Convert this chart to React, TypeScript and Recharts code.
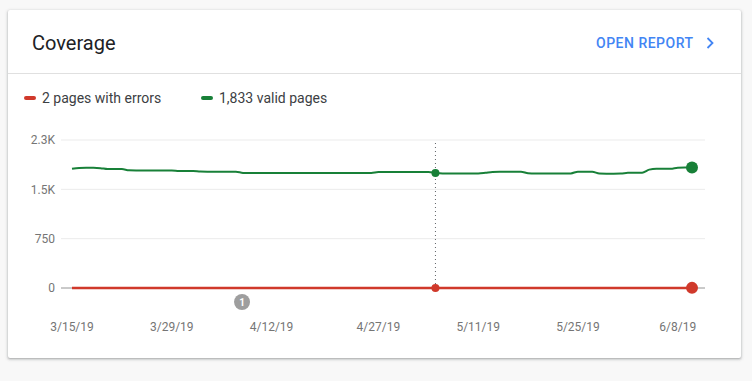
import React from 'react';
import {
  LineChart,
  Line,
  XAxis,
  YAxis,
  CartesianGrid,
  ReferenceLine,
  ReferenceDot,
} from 'recharts';

// daily dates, 3/15/19 .. 6/10/19
const DATES = [
  '3/15/19', '3/16/19', '3/17/19', '3/18/19', '3/19/19', '3/20/19', '3/21/19', '3/22/19', '3/23/19', '3/24/19',
  '3/25/19', '3/26/19', '3/27/19', '3/28/19', '3/29/19', '3/30/19', '3/31/19',
  '4/1/19', '4/2/19', '4/3/19', '4/4/19', '4/5/19', '4/6/19', '4/7/19', '4/8/19', '4/9/19', '4/10/19',
  '4/11/19', '4/12/19', '4/13/19', '4/14/19', '4/15/19', '4/16/19', '4/17/19', '4/18/19', '4/19/19', '4/20/19',
  '4/21/19', '4/22/19', '4/23/19', '4/24/19', '4/25/19', '4/26/19', '4/27/19', '4/28/19', '4/29/19', '4/30/19',
  '5/1/19', '5/2/19', '5/3/19', '5/4/19', '5/5/19', '5/6/19', '5/7/19', '5/8/19', '5/9/19', '5/10/19',
  '5/11/19', '5/12/19', '5/13/19', '5/14/19', '5/15/19', '5/16/19', '5/17/19', '5/18/19', '5/19/19', '5/20/19',
  '5/21/19', '5/22/19', '5/23/19', '5/24/19', '5/25/19', '5/26/19', '5/27/19', '5/28/19', '5/29/19', '5/30/19',
  '5/31/19',
  '6/1/19', '6/2/19', '6/3/19', '6/4/19', '6/5/19', '6/6/19', '6/7/19', '6/8/19', '6/9/19', '6/10/19',
];

const VALID_PAGES = [
  1812, 1826, 1828, 1828, 1822, 1808, 1808, 1808, 1790, 1788,
  1788, 1788, 1788, 1788, 1788, 1780, 1779, 1779, 1770, 1768,
  1768, 1768, 1768, 1768, 1750, 1748, 1748, 1748, 1748, 1748,
  1748, 1748, 1748, 1748, 1748, 1748, 1748, 1748, 1748, 1748,
  1748, 1748, 1748, 1762, 1762, 1762, 1762, 1762, 1762, 1762,
  1762, 1750, 1742, 1740, 1740, 1740, 1740, 1742, 1752, 1765,
  1768, 1768, 1768, 1768, 1745, 1740, 1740, 1740, 1740, 1740,
  1742, 1768, 1768, 1768, 1740, 1738, 1738, 1740, 1752, 1754,
  1754, 1800, 1813, 1813, 1813, 1830, 1833, 1833,
];

const ERROR_PAGES = [
  0, 0, 0, 0, 0, 0, 0, 0, 0, 0,
  0, 0, 0, 0, 0, 0, 0, 0, 0, 0,
  0, 0, 0, 0, 0, 0, 0, 0, 0, 0,
  0, 0, 0, 0, 0, 0, 0, 0, 0, 0,
  0, 0, 0, 0, 0, 0, 0, 0, 0, 0,
  0, 0, 0, 0, 0, 0, 0, 0, 0, 0,
  0, 0, 0, 0, 0, 0, 0, 0, 0, 0,
  0, 0, 0, 0, 0, 0, 0, 0, 0, 0,
  0, 0, 0, 0, 0, 0, 0, 2,
];

const X_TICKS = ['3/15/19', '3/29/19', '4/12/19', '4/27/19', '5/11/19', '5/25/19', '6/8/19'];
const Y_TICKS = [0, 750, 1500, 2250];
const Y_LABELS = ['0', '750', '1.5K', '2.3K'];

const HOVER_DATE = '5/5/19';
const ANNOTATION_DATE = '4/8/19';
const ANNOTATION_LABEL = '1';

const RED = '#d0392b';
const GREEN = '#188038';
const FONT = 'Roboto, "Noto Sans", sans-serif';

const data = DATES.map((date, i) => ({
  date,
  errors: ERROR_PAGES[i],
  valid: VALID_PAGES[i],
}));

const lastIndex = data.length - 1;
const hoverIndex = DATES.indexOf(HOVER_DATE);

const endDot = (color: string) => (props: any) => {
  const { cx, cy, index } = props;
  if (index !== lastIndex) return <g key={`d-${index}`} />;
  return <circle key={`d-${index}`} cx={cx} cy={cy} r={6} fill={color} />;
};

const Badge = (props: any) => {
  const { cx, cy } = props;
  return (
    <g>
      <circle cx={cx - 1} cy={cy + 14} r={8} fill="#9e9e9e" />
      <text
        x={cx - 1}
        y={cy + 14}
        dy="0.35em"
        textAnchor="middle"
        fill="#fff"
        fontSize={10}
        fontWeight={700}
        fontFamily={FONT}
      >
        {ANNOTATION_LABEL}
      </text>
    </g>
  );
};

export default function App() {
  return (
    <div
      style={{
        position: 'absolute',
        left: 0,
        top: 0,
        width: 752,
        height: 381,
        background: '#f8f8f8',
        fontFamily: FONT,
      }}
    >
      <div
        style={{
          position: 'absolute',
          left: 8,
          top: 10,
          width: 733,
          height: 348,
          background: '#fff',
          borderRadius: 2,
          boxShadow: '0 1px 2px rgba(60,64,67,0.3), 0 1px 3px 1px rgba(60,64,67,0.15)',
        }}
      >
        {/* header */}
        <div
          style={{
            position: 'absolute',
            left: 0,
            top: 0,
            width: 733,
            height: 63,
            borderBottom: '1px solid #e0e0e0',
          }}
        >
          <div
            style={{
              position: 'absolute',
              left: 24,
              top: 19,
              lineHeight: '28px',
              fontSize: 20,
              color: '#202124',
            }}
          >
            Coverage
          </div>
          <div
            style={{
              position: 'absolute',
              left: 588,
              top: 23,
              lineHeight: '20px',
              fontSize: 14,
              fontWeight: 500,
              letterSpacing: 0.5,
              color: '#4285f4',
            }}
          >
            OPEN REPORT
          </div>
          <svg
            style={{ position: 'absolute', left: 696, top: 27 }}
            width={12}
            height={12}
            viewBox="0 0 12 12"
          >
            <path d="M3.5 1 L8.5 6 L3.5 11" fill="none" stroke="#4285f4" strokeWidth={1.8} />
          </svg>
        </div>

        {/* legend */}
        <div
          style={{
            position: 'absolute',
            left: 16,
            top: 78,
            display: 'flex',
            alignItems: 'center',
            fontSize: 14,
            lineHeight: '20px',
            color: '#3c4043',
          }}
        >
          <span style={{ width: 12, height: 4, borderRadius: 2, background: RED, marginRight: 6 }} />
          <span style={{ width: 159 }}>2 pages with errors</span>
          <span style={{ width: 12, height: 4, borderRadius: 2, background: GREEN, marginRight: 6 }} />
          <span>1,833 valid pages</span>
        </div>

        <div style={{ position: 'absolute', left: 0, top: 110 }}>
          <LineChart
            width={733}
            height={230}
            data={data}
            margin={{ top: 20, right: 36, bottom: 0, left: 0 }}
          >
            <CartesianGrid vertical={false} stroke="#ebebeb" />
            <XAxis
              dataKey="date"
              ticks={X_TICKS}
              interval={0}
              padding={{ left: 11, right: 13 }}
              axisLine={false}
              tickLine={false}
              tickSize={0}
              tickMargin={34}
              height={62}
              tick={{ fill: '#757575', fontSize: 12, fontFamily: FONT }}
            />
            <YAxis
              domain={[0, 2250]}
              ticks={Y_TICKS}
              tickFormatter={(v: number) => Y_LABELS[Y_TICKS.indexOf(v)]}
              width={53}
              axisLine={false}
              tickLine={false}
              tickSize={4}
              tickMargin={2}
              tick={{ fill: '#757575', fontSize: 12, fontFamily: FONT }}
            />
            <ReferenceLine y={0} stroke="#9e9e9e" />
            <ReferenceLine x={HOVER_DATE} stroke="#5f6368" strokeDasharray="1 3" />
            <Line
              type="monotone"
              dataKey="errors"
              stroke={RED}
              strokeWidth={2.5}
              dot={endDot(RED)}
              activeDot={false}
              isAnimationActive={false}
            />
            <Line
              type="monotone"
              dataKey="valid"
              stroke={GREEN}
              strokeWidth={2}
              dot={endDot(GREEN)}
              activeDot={false}
              isAnimationActive={false}
            />
            <ReferenceDot x={HOVER_DATE} y={ERROR_PAGES[hoverIndex]} r={4} fill={RED} stroke="none" />
            <ReferenceDot x={HOVER_DATE} y={VALID_PAGES[hoverIndex]} r={4} fill={GREEN} stroke="none" />
            <ReferenceDot
              x={ANNOTATION_DATE}
              y={0}
              ifOverflow="visible"
              shape={Badge}
            />
          </LineChart>
        </div>
      </div>
    </div>
  );
}
